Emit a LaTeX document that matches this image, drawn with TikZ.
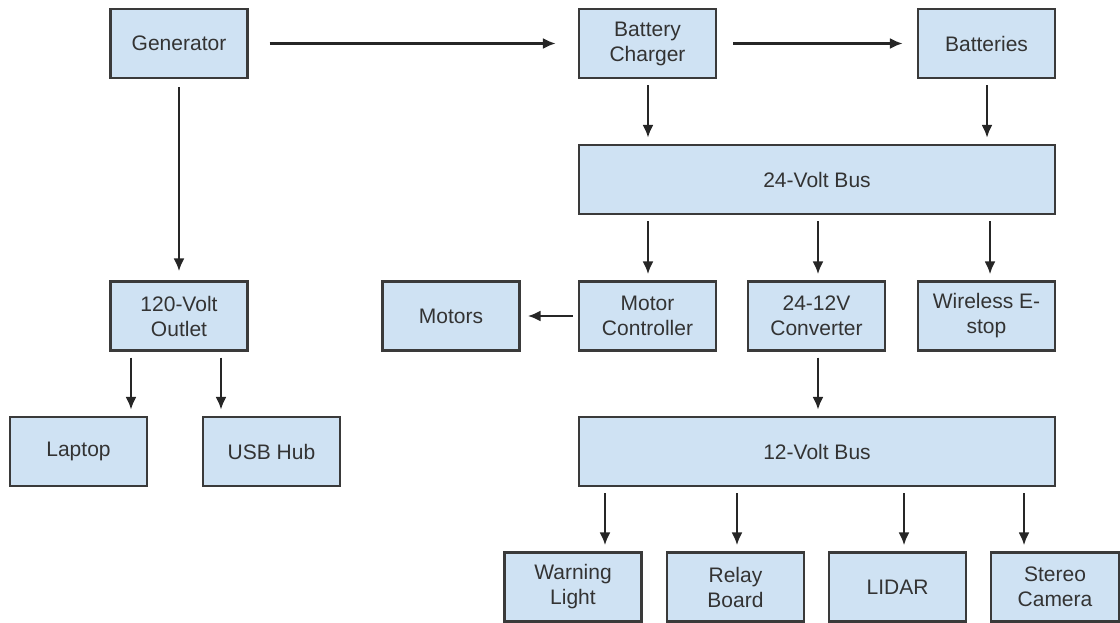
\documentclass[tikz,border=0pt]{standalone}
\usepackage{fontspec}
\setmainfont{Liberation Sans}
\usetikzlibrary{arrows.meta}
\definecolor{boxfill}{HTML}{CFE2F3}
\definecolor{boxline}{HTML}{3A3A3A}
\definecolor{txt}{HTML}{333333}
\begin{document}
\begin{tikzpicture}[x=1pt,y=-1pt,
  blk/.style={draw=boxline, fill=boxfill, line width=2.4pt, minimum width=137pt, minimum height=69pt,
    inner sep=0pt, align=center, text=txt, font=\fontsize{21}{25}\selectfont},
  wide/.style={blk, minimum width=476pt},
  arr/.style={draw=black!85, line width=2.2pt, -{Latex[length=13pt,width=11pt]}}]
\useasboundingbox (0,0) rectangle (1120,623);
% top row
\node[blk] (gen) at (179,43.5) {Generator};
\node[blk] (charger) at (647.5,43.5) {Battery\\Charger};
\node[blk] (batt) at (986.5,43.5) {Batteries};
\node[wide] (bus24) at (817,179.5) {24-Volt Bus};
% middle row
\node[blk] (outlet) at (179,316) {120-Volt\\Outlet};
\node[blk] (motors) at (451,316) {Motors};
\node[blk] (mc) at (647.5,316) {Motor\\Controller};
\node[blk] (conv) at (816.5,316) {24-12V\\Converter};
\node[blk] (estop) at (986.5,316) {Wireless E-\\stop};
% lower row
\node[blk] (laptop) at (78.5,451.5) {Laptop};
\node[blk] (usb) at (271.5,451.5) {USB Hub};
\node[wide] (bus12) at (817,451.5) {12-Volt Bus};
% bottom row
\node[blk] (warn) at (573,587) {Warning\\Light};
\node[blk] (relay) at (735.5,587) {Relay\\Board};
\node[blk] (lidar) at (897.5,587) {LIDAR};
\node[blk, minimum width=128pt] (stereo) at (1055,587) {Stereo\\Camera};
% x positions of connectors
\coordinate (xl) at (131,0);
\coordinate (xu) at (221,0);
\coordinate (xc) at (648,0);
\coordinate (xb) at (987,0);
\coordinate (xv) at (818,0);
\coordinate (xe) at (990,0);
\coordinate (xw) at (605,0);
\coordinate (xr) at (737,0);
\coordinate (xd) at (904,0);
\coordinate (xs) at (1024,0);
% connectors
\draw[arr, shorten <=21pt, shorten >=22pt] (gen.east) -- (charger.west);
\draw[arr, shorten <=16pt, shorten >=14pt] (charger.east) -- (batt.west);
\draw[arr, shorten <=8pt, shorten >=9pt] (gen.south) -- (outlet.north);
\draw[arr, shorten <=6pt, shorten >=6pt] (xc |- charger.south) -- (xc |- bus24.north);
\draw[arr, shorten <=6pt, shorten >=6pt] (xb |- batt.south) -- (xb |- bus24.north);
\draw[arr, shorten <=6pt, shorten >=6pt] (xc |- bus24.south) -- (xc |- mc.north);
\draw[arr, shorten <=6pt, shorten >=6pt] (xv |- bus24.south) -- (xv |- conv.north);
\draw[arr, shorten <=6pt, shorten >=6pt] (xe |- bus24.south) -- (xe |- estop.north);
\draw[arr, shorten <=5pt, shorten >=7pt] (mc.west) -- (motors.east);
\draw[arr, shorten <=6pt, shorten >=6pt] (xv |- conv.south) -- (xv |- bus12.north);
\draw[arr, shorten <=6pt, shorten >=6pt] (xl |- outlet.south) -- (xl |- laptop.north);
\draw[arr, shorten <=6pt, shorten >=6pt] (xu |- outlet.south) -- (xu |- usb.north);
\draw[arr, shorten <=6pt, shorten >=6pt] (xw |- bus12.south) -- (xw |- warn.north);
\draw[arr, shorten <=6pt, shorten >=6pt] (xr |- bus12.south) -- (xr |- relay.north);
\draw[arr, shorten <=6pt, shorten >=6pt] (xd |- bus12.south) -- (xd |- lidar.north);
\draw[arr, shorten <=6pt, shorten >=6pt] (xs |- bus12.south) -- (xs |- stereo.north);
\end{tikzpicture}
\end{document}
